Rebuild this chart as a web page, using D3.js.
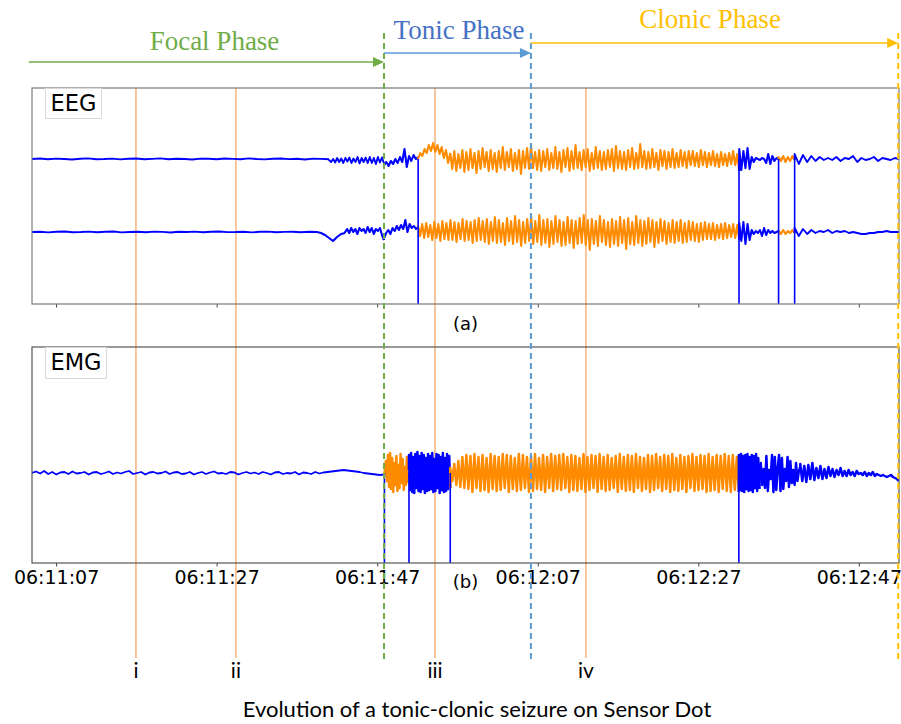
<!DOCTYPE html>
<html>
<head>
<meta charset="utf-8">
<script src="https://d3js.org/d3.v7.min.js"></script>
<style>
  body { margin: 0; background: #fff; }
  .tick text { font-family: "DejaVu Sans", sans-serif; }
</style>
</head>
<body>
<div id="vis"></div>
<script>
  // time axis, seconds counted from 06:11:04
  var startTime = "06:11:04", endTime = "06:12:52"
  var tickLabels = ["06:11:07", "06:11:27", "06:11:47", "06:12:07", "06:12:27", "06:12:47"]

  // sample points i..iv and phase boundaries (seconds after 06:11:04)
  var markerNames = ["i", "ii", "iii", "iv"]
  var markerTimes = [12.95, 25.4, 50.2, 69.0]
  var phaseNames = ["Focal Phase", "Tonic Phase", "Clonic Phase"]
  var phaseStart = [-0.4, 43.85, 62.15]
  var phaseEnd = [43.85, 62.15, 107.9]

  // signal dropouts (seconds)
  var eegDrops = [48.1, 88.07, 93.0, 95.0]
  var emgDrops = [43.9, 46.96, 52.1, 88.05]

  // segments: [from, to, flagged]  flagged = 1 drawn orange
  var eeg1Spans = [[0, 37, 0], [37, 43.85, 0], [43.85, 48.1, 0], [48.1, 52.1, 1], [52.1, 88.1, 1], [88.1, 93, 0], [93, 95, 1], [95, 108, 0]]
  var eeg1Values = [
    [0,0.5,-0.3,0.4,0,-0.5,0.3,0.6,-0.2,0,0.4,-0.4,0.2,0.5,-0.3,0.1,0.6,-0.2,0.3,0,-0.5,0.4,0.2,-0.3,0.5,0.1,-0.2,0.6,0,-0.4,0.3,0.5,-0.1,0.2,-0.5,0.4,0.1,-0.3],
    [-1,-3,0,-3.5,1,-3,0.5,-4,1,-2.5,1.5,-4,0.5,-3,2,-4.5,1,-3,1.5,-4,2,-4,1,-5,2,-3.5,1.5,-4.5],
    [-6,-3,-7,-2,-5,0,-4,2,-3,10,-8,3,-2,4,0,2],
    [0,6,3,10,6,14,8,16,7,14,5,12,1,9,-4,6],
    [6,-10,8,-12,5,-9,9,-13, 7,-11,10,-9,6,-14,8,-10, 11,-8,7,-12,9,-10,6,-13, 8,-9,12,-11,7,-8,10,-12,
     6,-10,9,-15,8,-9,11,-10, 13,-9,7,-11,9,-12,8,-8, 10,-11,6,-9,12,-10,7,-13, 9,-8,11,-12,8,-10,14,-9,
     7,-11,9,-8,10,-12,6,-10, 12,-9,8,-11,7,-10,9,-8, 10,-12,13,-9,8,-10,7,-11, 9,-8,11,-10,6,-9,15,-8,
     8,-10,7,-9,10,-8,6,-11, 9,-7,8,-10,7,-8,10,-9, 6,-8,9,-7,7,-9,8,-6, 8,-7,6,-8,9,-6,7,-8,
     6,-6,8,-7,5,-8,7,-6, 5,-7,6,-5,8,-6,5,-12],
    [10,-11,8,-9,11,-10,2,-3,1,0,-1,1,0,-4,5,-5,3,-2,1,0],
    [2,-2,3,-3,2,-2,3,-1],
    [5,-5,4,-3,3,-2,2,-1,1,-1,2,-2,1,0,3,-3,1,-1,0,2,-2,1,0,-1,1,0]
  ]

  var eeg2Spans = [[0, 35.5, 0], [35.5, 39, 0], [39, 43.85, 0], [43.85, 48.1, 0], [48.1, 88.1, 1], [88.1, 93, 0], [93, 95, 1], [95, 108, 0]]
  var eeg2Values = [
    [0,0.3,-0.4,0.2,0.5,-0.2,0,0.4,-0.3,0.2,0.5,-0.4,0,0.3,-0.2,0.4,0.1,-0.5,0.3,0,0.4,-0.3,0.2,0.5,-0.1,0,0.3,-0.4,0.2,0.4,-0.2,0.1,0.3,-0.3,0.2,0],
    [0,-1,-3,-6,-9,-5,-2,-1],
    [0,3,-1,4,0,3,-2,4,1,3,-1,5,0,4,-2,3,1,4,-3,-8],
    [-6,-1,2,-2,4,1,6,2,7,3,12,0,8,4,6,3,5],
    [6,-4,8,-6,9,-5,7,-8,10,-6,8,-9,11,-7,9,-8,
     12,-8,10,-10,9,-7,13,-9,11,-8,10,-11,12,-9,14,-8,
     11,-10,13,-12,10,-9,15,-11,12,-10,9,-13,14,-9,11,-12,
     16,-10,12,-14,10,-11,13,-9,15,-12,11,-10,17,-13,12,-11,
     13,-15,11,-12,16,-10,12,-14,10,-13,15,-11,12,-16,11,-12,
     14,-11,17,-13,12,-18,13,-12,11,-14,16,-10,12,-13,10,-15,
     13,-12,11,-14,15,-11,12,-17,14,-12,10,-13,16,-11,12,-14,
     11,-12,14,-10,12,-15,10,-11,13,-9,11,-12,9,-10,12,-11,
     10,-9,12,-11,9,-10,11,-8,10,-9,8,-10,9,-8,10,-7,
     8,-7,9,-8,7,-6,8,-7,9,-6,7,-5,8,-6,7,-8],
    [9,-9,10,-12,8,-8,2,-2,1,-1,2,-4,4,-3,2,-1,1,-1,0,1],
    [1,-2,2,-2,1,-1,2,-1],
    [4,-4,3,-2,2,-1,1,0,2,-1,1,0,1,-1,0,-1,-2,-2,-1,-1,0,0,1,0,0,0]
  ]

  var emgSpans = [[0, 43.85, 0], [43.95, 46.96, 1], [46.96, 52.1, 0], [52.1, 88.05, 1], [88.05, 90.6, 0], [90.6, 95.7, 0], [95.7, 108, 0]]
  var emgValues = [
    [0,1.5,-0.5,2,-1,1,-1.5,0.5,1,-1,1.5,-0.5,0,1,-1.5,0.5,1,-1,0,1.5,-1,0.5,-0.5,1,2,-1,0,1,-1.5,0.5,1,-0.5,0,1.5,-1,0.5,1,-1,-0.5,1,
     -1.5,0,1,-1,0.5,1.5,-0.5,0,-1,1,0.5,-1.5,0,1,-0.5,0.5,-1,1,0,-1.5,0.5,1,-1,0,-0.5,1,-1.5,0.5,0,-1,1,-0.5,0.5,1,1.5,2,2.5,3,2.5,2,1.5,1,0,-0.5,-1,-1.5,-2,-1.5],
    [2,12,-8,18,-14,20,-16,15,-19,10,-12,17,-18,8,-15,19,-10,14,-17,6,-12,16,-9,3],
    [18,-17,20,-19,16,-20,19,-15,21,-18,17,-19,20,-16,18,-20,15,-18,19,-17,17,-16,20,-19,14,-18,19,-15,18,-20,16,-17,20,-19,15,-18,19,-16,17,-15],
    [5,-8,9,-12,12,-14,16,-15,
     18,-16,17,-19,19,-15,16,-18,18,-17,15,-19,19,-16,17,-18,
     16,-17,19,-15,18,-19,17,-16,15,-18,19,-17,18,-15,16,-19,
     17,-18,19,-16,15,-17,18,-19,16,-15,19,-18,17,-16,18,-17,
     19,-15,16,-19,18,-17,17,-18,15,-16,19,-19,16,-17,18,-15,
     17,-19,19,-16,16,-18,18,-17,15,-15,17,-19,19,-16,16,-18,
     18,-17,17,-19,19,-15,16,-18,15,-16,18,-19,17,-17,19,-15,
     16,-18,18,-16,17,-19,19,-17,15,-18,18,-16,16,-19,17,-15,
     19,-18,16,-17,18,-16,17,-19,19,-18,16,-17,18,-19,17,-16,
     19,-18,17,-19,18,-17,16,-19],
    [18,-17,19,-18,17,-19,18,-16,19,-18,16,-17,18,-19,17,-15,19,-18,15,-16],
    [2,10,-12,4,-15,17,-18,3,-6,18,-19,16,-17,5,18,-18,15,-16,4,-8,16,-14,12,-10,3,-12,10,-8,2,6],
    [9,-8,7,-9,8,-6,10,-7,5,-5,7,-6,4,-5,6,-3,4,-4,3,-2,5,-3,2,-3,3,-2,1,-3,2,-1,0,-2,1,-3,0,-2,1,-3,-1,-2,-3,-2,-3,-4,-3,-2,-4,-5,-6,-8]
  ]

  // baselines of the traces (panel units)
  var eeg1Base = 145, eeg2Base = 72, emgBase = 90

  var width = 901, height = 724
  var blue = "#0000ff", orange = "#ff8c00", markerColor = "#f5a05c"
  var phaseColors = ["#70ad47", "#5b9bd5", "#ffc000"]
  var phaseText = ["#70ad47", "#4472c4", "#ffc000"]
  var phaseArrowY = [62, 53, 43], phaseTextY = [50, 39, 28]

  var parse = d3.timeParse("%H:%M:%S")
  var t0 = parse(startTime)
  function sec(s) { return new Date(t0.getTime() + s * 1000) }

  var x = d3.scaleTime().domain([t0, parse(endTime)]).range([32, 899])
  var yEEG = d3.scaleLinear().domain([0, 216]).range([304, 88])
  var yEMG = d3.scaleLinear().domain([0, 216]).range([563, 347])

  var svg = d3.select("#vis").append("svg")
    .attr("width", width).attr("height", height)
    .style("font-family", "DejaVu Sans, sans-serif")

  var defs = svg.append("defs")
  defs.append("clipPath").attr("id", "clipEEG").append("rect")
    .attr("x", 32).attr("y", 88).attr("width", 867).attr("height", 216)
  defs.append("clipPath").attr("id", "clipEMG").append("rect")
    .attr("x", 32).attr("y", 347).attr("width", 867).attr("height", 216)

  // orange sample markers (behind traces)
  svg.selectAll(".marker").data(markerTimes).enter().append("line")
    .attr("x1", function(d) { return x(sec(d)) }).attr("x2", function(d) { return x(sec(d)) })
    .attr("y1", 88).attr("y2", 658)
    .attr("stroke", markerColor).attr("stroke-width", 1.2)

  svg.selectAll(".mlabel").data(markerNames).enter().append("text")
    .attr("x", function(d, i) { return x(sec(markerTimes[i])) })
    .attr("y", 678)
    .attr("text-anchor", "middle")
    .style("font-family", "Lato, sans-serif").style("font-size", "21px")
    .text(function(d) { return d })

  var line = d3.line().x(function(d) { return x(sec(d[0])) })

  function drawTrace(g, spans, values, base, yScale, wBlue, wOrange) {
    var prev = null
    spans.forEach(function(s, k) {
      var vals = values[k], n = vals.length
      var pts = vals.map(function(v, i) { return [s[0] + i * (s[1] - s[0]) / (n - 1), base + v] })
      if (prev) pts.unshift(prev)
      prev = pts[pts.length - 1]
      // busy segments (large swings) drawn a bit heavier so they fill in
      var busy = d3.max(vals, Math.abs) > 6
      g.append("path")
        .attr("d", line.y(function(d) { return yScale(d[1]) })(pts))
        .attr("fill", "none")
        .attr("stroke", s[2] ? orange : blue)
        .attr("stroke-width", s[2] ? wOrange : (busy ? wOrange : wBlue))
        .attr("stroke-linejoin", "round")
    })
  }

  function drawDrops(g, drops, base, yScale) {
    g.selectAll(".drop").data(drops).enter().append("line")
      .attr("x1", function(d) { return x(sec(d)) }).attr("x2", function(d) { return x(sec(d)) })
      .attr("y1", yScale(base)).attr("y2", yScale(base - 200))
      .attr("stroke", blue).attr("stroke-width", 1.6)
  }

  // EEG panel
  var gEEG = svg.append("g").attr("clip-path", "url(#clipEEG)")
  drawTrace(gEEG, eeg2Spans, eeg2Values, eeg2Base, yEEG, 1.9, 2.1)
  drawTrace(gEEG, eeg1Spans, eeg1Values, eeg1Base, yEEG, 1.9, 2.1)
  drawDrops(gEEG, eegDrops, eeg1Base, yEEG)

  // EMG panel
  var gEMG = svg.append("g").attr("clip-path", "url(#clipEMG)")
  drawTrace(gEMG, emgSpans, emgValues, emgBase, yEMG, 1.8, 2.5)
  drawDrops(gEMG, emgDrops, emgBase, yEMG)

  var tickTimes = tickLabels.map(parse)

  // axes
  var axEEG = svg.append("g").attr("transform", "translate(0,304)")
    .call(d3.axisBottom(x).tickValues(tickTimes).tickFormat("").tickSize(3.5))
  axEEG.select(".domain").remove()
  axEEG.selectAll(".tick line").attr("stroke", "#444")

  var axEMG = svg.append("g").attr("transform", "translate(0,563)")
    .call(d3.axisBottom(x).tickValues(tickTimes)
      .tickFormat(function(d, i) { return tickLabels[i] }).tickSize(3.5).tickPadding(4.5))
  axEMG.select(".domain").remove()
  axEMG.selectAll(".tick line").attr("stroke", "#444")
  axEMG.selectAll(".tick text").style("font-size", "19px").attr("fill", "#000")

  // frames
  svg.append("rect").attr("x", 32).attr("y", 88).attr("width", 867).attr("height", 216)
    .attr("fill", "none").attr("stroke", "#7a7a7a").attr("stroke-width", 1.2)
  svg.append("rect").attr("x", 32).attr("y", 347).attr("width", 867).attr("height", 216)
    .attr("fill", "none").attr("stroke", "#555").attr("stroke-width", 1.2)

  // legend boxes
  svg.append("rect").attr("x", 45.5).attr("y", 88.5).attr("width", 56).attr("height", 30)
    .attr("fill", "#fff").attr("stroke", "#d9d9d9")
  svg.append("text").attr("x", 73.5).attr("y", 111).attr("text-anchor", "middle")
    .style("font-size", "22.5px").text("EEG")
  svg.append("rect").attr("x", 45.5).attr("y", 347.5).attr("width", 61).attr("height", 31)
    .attr("fill", "#fff").attr("stroke", "#d9d9d9")
  svg.append("text").attr("x", 76).attr("y", 370).attr("text-anchor", "middle")
    .style("font-size", "22.5px").text("EMG")

  svg.append("text").attr("x", 465.5).attr("y", 330).attr("text-anchor", "middle")
    .style("font-size", "18px").text("(a)")
  svg.append("text").attr("x", 465.5).attr("y", 588).attr("text-anchor", "middle")
    .style("font-size", "18px").text("(b)")

  // phase boundaries (dashed) and arrows
  svg.selectAll(".bound").data(phaseEnd).enter().append("line")
    .attr("x1", function(d) { return x(sec(d)) }).attr("x2", function(d) { return x(sec(d)) })
    .attr("y1", 33).attr("y2", 663)
    .attr("stroke", function(d, i) { return phaseColors[i] })
    .attr("stroke-width", 2).attr("stroke-dasharray", "6,4")

  phaseNames.forEach(function(name, i) {
    var xs = x(sec(phaseStart[i])), xe = x(sec(phaseEnd[i])), yy = phaseArrowY[i]
    svg.append("line").attr("x1", xs).attr("x2", xe - 8).attr("y1", yy).attr("y2", yy)
      .attr("stroke", phaseColors[i]).attr("stroke-width", 1.5)
    svg.append("path")
      .attr("d", "M" + (xe - 11) + "," + (yy - 5) + "L" + xe + "," + yy + "L" + (xe - 11) + "," + (yy + 5) + "Z")
      .attr("fill", phaseColors[i])
  })

  var phaseTextX = [214.5, 459, 710]
  svg.selectAll(".ptext").data(phaseNames).enter().append("text")
    .attr("x", function(d, i) { return phaseTextX[i] })
    .attr("y", function(d, i) { return phaseTextY[i] })
    .attr("text-anchor", "middle")
    .attr("fill", function(d, i) { return phaseText[i] })
    .style("font-family", "Liberation Serif, serif").style("font-size", "27px")
    .text(function(d) { return d })

  svg.append("text").attr("x", 477).attr("y", 717).attr("text-anchor", "middle")
    .style("font-family", "Lato, sans-serif").style("font-size", "22px")
    .text("Evolution of a tonic-clonic seizure on Sensor Dot")
</script>
</body>
</html>
